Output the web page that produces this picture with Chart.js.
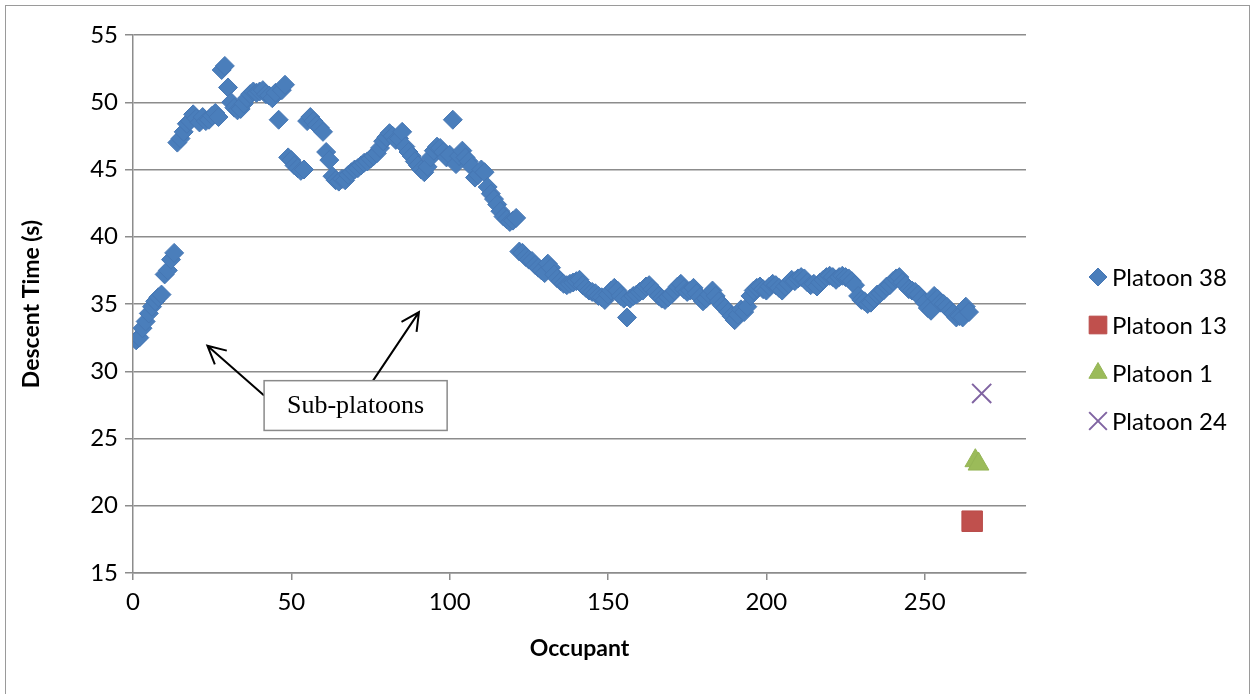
<!DOCTYPE html>
<html>
<head>
<meta charset="utf-8">
<title>Descent Time by Occupant</title>
<script src="https://cdn.jsdelivr.net/npm/chart.js@4.4.1/dist/chart.umd.min.js"></script>
<style>
  html, body { margin: 0; padding: 0; background: #fff; }
  #wrap { position: relative; width: 1253px; height: 694px; overflow: hidden; }
  #wrap canvas { position: absolute; left: 0; top: 0; }
  #frame { position: absolute; left: 5px; top: 5px; width: 1243px; height: 720px; border: 1px solid #9a9a9a; pointer-events: none; }
</style>
</head>
<body>
<div id="wrap">
  <canvas id="descent" width="1253" height="694"></canvas>
  <div id="frame"></div>
</div>
<script>
// descent time (s) of each occupant of platoon 38, occupant 1 first
var platoon38 = [
  32.3, 32.5, 33.2, 33.7, 34.3, 34.8, 35.2, 35.5, 35.7, 37.2,
  37.5, 38.3, 38.8, 47.0, 47.3, 47.8, 48.4, 48.6, 49.1, 48.8,
  48.5, 48.9, 48.6, 48.7, 49.0, 49.2, 48.9, 52.4, 52.7, 51.1,
  50.0, 49.6, 49.4, 49.5, 49.9, 50.3, 50.6, 50.8, 50.7, 50.8,
  50.9, 50.6, 50.5, 50.3, 50.7, 48.7, 50.9, 51.3, 45.9, 45.7,
  45.3, 45.1, 44.9, 45.0, 48.6, 48.9, 48.6, 48.3, 48.1, 47.8,
  46.3, 45.7, 44.5, 44.2, 44.1, 44.3, 44.2, 44.6, 44.8, 45.0,
  45.1, 45.3, 45.5, 45.6, 45.8, 46.0, 46.2, 46.6, 47.1, 47.4,
  47.7, 47.5, 47.2, 47.3, 47.8, 46.7, 46.3, 46.0, 45.6, 45.3,
  45.0, 44.8, 45.2, 45.9, 46.4, 46.7, 46.6, 46.3, 45.9, 46.1,
  48.7, 45.4, 46.0, 46.4, 45.9, 45.6, 45.2, 44.4, 44.6, 45.0,
  44.8, 43.7, 43.2, 42.8, 42.4, 41.9, 41.5, 41.3, 41.1, 41.2,
  41.4, 38.9, 38.8, 38.5, 38.3, 38.2, 37.9, 37.7, 37.5, 37.3,
  38.0, 37.7, 37.2, 36.9, 36.7, 36.5, 36.4, 36.5, 36.6, 36.7,
  36.8, 36.4, 36.2, 36.0, 35.9, 35.8, 35.6, 35.5, 35.3, 35.7,
  36.0, 36.2, 36.0, 35.6, 35.4, 34.0, 35.4, 35.6, 35.7, 35.9,
  36.0, 36.3, 36.4, 36.1, 35.9, 35.6, 35.4, 35.3, 35.5, 35.7,
  36.0, 36.3, 36.5, 36.1, 35.9, 36.0, 36.2, 35.8, 35.5, 35.2,
  35.4, 35.7, 36.0, 35.6, 35.2, 34.9, 34.7, 34.4, 34.1, 33.8,
  34.2, 34.6, 34.4, 34.8, 35.6, 36.0, 36.2, 36.3, 36.1, 36.0,
  36.3, 36.5, 36.4, 36.2, 36.0, 36.3, 36.5, 36.8, 36.7, 36.9,
  37.0, 36.9, 36.6, 36.4, 36.5, 36.3, 36.6, 36.8, 37.0, 37.1,
  37.0, 36.8, 37.0, 37.1, 37.0, 36.9, 36.7, 36.4, 35.6, 35.3,
  35.2, 35.0, 35.1, 35.4, 35.7, 35.8, 36.0, 36.3, 36.4, 36.7,
  36.9, 37.0, 36.6, 36.4, 36.1, 36.0, 35.9, 35.7, 35.4, 35.1,
  34.7, 34.5, 35.6, 35.4, 35.1, 35.0, 34.8, 34.5, 34.3, 34.0,
  34.1, 34.0, 34.8, 34.4
];

// the other platoons, one marker per occupant
var platoon13X = [265];
var platoon13Y = [18.85];
var platoon1X = [266, 267];
var platoon1Y = [23.35, 23.1];
var platoon24X = [268];
var platoon24Y = [28.35];

var xTicks = [0, 50, 100, 150, 200, 250];

function toPoints(xs, ys) {
  return xs.map(function (x, i) { return { x: x, y: ys[i] }; });
}

var occupants = platoon38.map(function (v, i) { return i + 1; });

var FONT = 'Lato, "Noto Sans", sans-serif';
var GRID = '#8c8c8c';

Chart.defaults.font.family = FONT;
Chart.defaults.color = '#000';

// callout with two arrows, placed in axis units
var callout = {
  text: 'Sub-platoons',
  box: { x1: 41.4, y1: 29.3, x2: 99.2, y2: 25.6 },
  arrows: [
    { fromX: 41.4, fromY: 28.2, toX: 23.5, toY: 31.9 },
    { fromX: 75.8, fromY: 29.3, toX: 90.3, toY: 34.4 }
  ]
};

var calloutPlugin = {
  id: 'callout',
  afterDatasetsDraw: function (chart) {
    var ctx = chart.ctx, xs = chart.scales.x, ys = chart.scales.y;
    ctx.save();
    ctx.strokeStyle = '#000';
    ctx.lineWidth = 2;
    callout.arrows.forEach(function (a) {
      var x0 = xs.getPixelForValue(a.fromX), y0 = ys.getPixelForValue(a.fromY);
      var x1 = xs.getPixelForValue(a.toX), y1 = ys.getPixelForValue(a.toY);
      var ang = Math.atan2(y0 - y1, x0 - x1), head = 20, spread = 0.47;
      ctx.beginPath();
      ctx.moveTo(x0, y0);
      ctx.lineTo(x1, y1);
      ctx.moveTo(x1 + head * Math.cos(ang - spread), y1 + head * Math.sin(ang - spread));
      ctx.lineTo(x1, y1);
      ctx.lineTo(x1 + head * Math.cos(ang + spread), y1 + head * Math.sin(ang + spread));
      ctx.stroke();
    });
    var bx1 = xs.getPixelForValue(callout.box.x1), by1 = ys.getPixelForValue(callout.box.y1);
    var bx2 = xs.getPixelForValue(callout.box.x2), by2 = ys.getPixelForValue(callout.box.y2);
    ctx.fillStyle = '#fff';
    ctx.fillRect(bx1, by1, bx2 - bx1, by2 - by1);
    ctx.strokeStyle = '#8a8a8a';
    ctx.lineWidth = 1.5;
    ctx.strokeRect(bx1, by1, bx2 - bx1, by2 - by1);
    ctx.fillStyle = '#000';
    ctx.font = '26px "Liberation Serif", "Times New Roman", serif';
    ctx.textAlign = 'center';
    ctx.textBaseline = 'middle';
    ctx.fillText(callout.text, (bx1 + bx2) / 2, (by1 + by2) / 2 + 1);
    ctx.restore();
  }
};

// legend on the right, one row per platoon
var legendPlugin = {
  id: 'sideLegend',
  afterDraw: function (chart) {
    var ctx = chart.ctx, area = chart.chartArea;
    var rowGap = 48;
    var n = chart.data.datasets.length;
    var top = chart.height / 2 + 2 - rowGap * (n - 1) / 2;
    var mx = area.right + 72;
    ctx.save();
    chart.data.datasets.forEach(function (ds, i) {
      var y = top + i * rowGap;
      ctx.fillStyle = ds.backgroundColor;
      ctx.strokeStyle = ds.borderColor;
      ctx.lineWidth = ds.borderWidth;
      Chart.helpers.drawPoint(ctx, {
        pointStyle: ds.pointStyle, radius: ds.legendRadius, rotation: 0, borderWidth: ds.borderWidth
      }, mx, y);
      ctx.fillStyle = '#000';
      ctx.font = '24px ' + FONT;
      ctx.textAlign = 'left';
      ctx.textBaseline = 'middle';
      ctx.fillText(ds.label, mx + 14, y + 1);
    });
    ctx.restore();
  }
};

new Chart(document.getElementById('descent'), {
  type: 'scatter',
  data: {
    datasets: [
      {
        label: 'Platoon 38',
        data: toPoints(occupants, platoon38),
        pointStyle: 'rectRot',
        pointRadius: 9.5,
        legendRadius: 9,
        backgroundColor: '#4a7ebb',
        borderColor: '#4677b4',
        borderWidth: 1
      },
      {
        label: 'Platoon 13',
        data: toPoints(platoon13X, platoon13Y),
        pointStyle: 'rect',
        pointRadius: 14.5,
        legendRadius: 12.5,
        backgroundColor: '#c0504d',
        borderColor: '#b94c49',
        borderWidth: 1
      },
      {
        label: 'Platoon 1',
        data: toPoints(platoon1X, platoon1Y),
        pointStyle: 'triangle',
        pointRadius: 12,
        legendRadius: 10.5,
        backgroundColor: '#9bbb59',
        borderColor: '#94b455',
        borderWidth: 1
      },
      {
        label: 'Platoon 24',
        data: toPoints(platoon24X, platoon24Y),
        pointStyle: 'crossRot',
        pointRadius: 13.5,
        legendRadius: 12.5,
        backgroundColor: '#8064a2',
        borderColor: '#8064a2',
        borderWidth: 2
      }
    ]
  },
  options: {
    responsive: false,
    animation: false,
    events: [],
    layout: { padding: { left: 0, top: 35, right: 227, bottom: 0 } },
    plugins: {
      legend: { display: false },
      tooltip: { enabled: false }
    },
    scales: {
      x: {
        type: 'linear',
        min: 0,
        max: 282,
        afterBuildTicks: function (s) {
          s.ticks = xTicks.map(function (v) { return { value: v }; });
        },
        afterFit: function (s) { s.height = 121; },
        ticks: { font: { size: 24 }, color: '#000', padding: 8, maxRotation: 0 },
        grid: { drawOnChartArea: false, drawTicks: true, tickLength: 7, color: GRID, lineWidth: 1.5 },
        border: { color: GRID, width: 1.5 },
        title: {
          display: true,
          text: 'Occupant',
          color: '#000',
          font: { size: 23, weight: 'bold' },
          padding: { top: 0, bottom: 32 }
        }
      },
      y: {
        min: 15,
        max: 55,
        afterFit: function (s) { s.width = 133; },
        ticks: { stepSize: 5, font: { size: 24 }, color: '#000', padding: 7 },
        grid: { color: GRID, lineWidth: 1.5, tickLength: 8 },
        border: { color: GRID, width: 1.5 },
        title: {
          display: true,
          text: 'Descent Time (s)',
          color: '#000',
          font: { size: 23, weight: 'bold' },
          padding: { top: 18, bottom: 0 }
        }
      }
    }
  },
  plugins: [calloutPlugin, legendPlugin]
});
</script>
</body>
</html>
